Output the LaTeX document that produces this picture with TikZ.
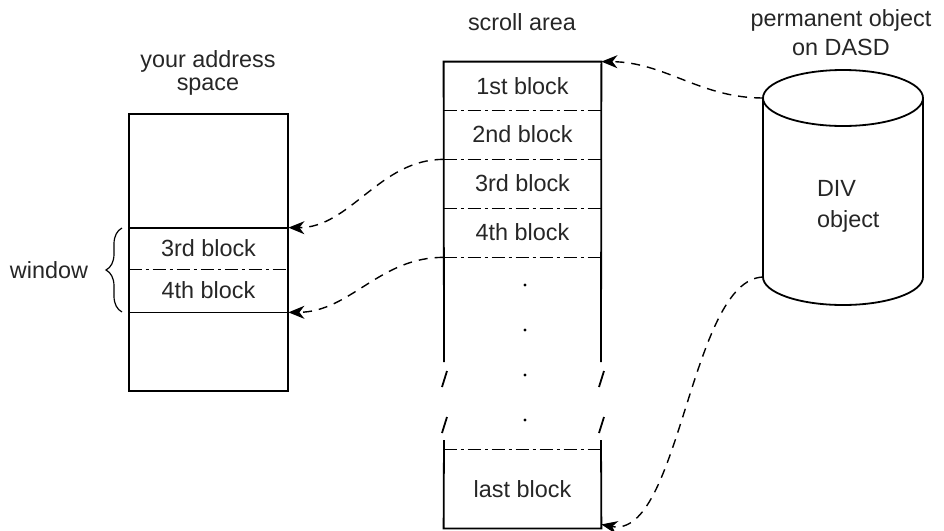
\documentclass[tikz,border=0pt]{standalone}
\usepackage{fontspec}
\setmainfont{Liberation Sans}
\usetikzlibrary{arrows.meta, decorations.pathreplacing}

\begin{document}
\begin{tikzpicture}[ x = 0.5pt
                   , y = -0.5pt
                   , font = \fontsize{11.7}{11.5}\selectfont
                   , >={Stealth[length=8pt, width=6.5pt, inset=2.5pt]}
                   , box/.style = {line width = 0.9pt}
                   , dashdot/.style = { line width = 0.7pt
                                      , dash pattern = on 6.5pt off 2pt on 1.5pt off 2pt }
                   , link/.style = { ->
                                   , line width = 0.7pt
                                   , dash pattern = on 4.5pt off 3.5pt }
                   , blk/.style = { inner sep = 0pt
                                  , minimum width = 78.5pt
                                  , minimum height = 24.5pt }
                   , win/.style = { inner sep = 0pt
                                  , minimum width = 79.5pt }
                   , every node/.style = {align = center, text = black!85}
                   ]

  \useasboundingbox (0,0) rectangle (944,531);

  % your address space
  \node (spacetitle) at (208,73) {your address\\space};
  \node (win3) [win, minimum height = 20.5pt] at (208.5,248.5) {3rd block};
  \node (win4) [win, minimum height = 21.5pt] at (208.5,290.5) {4th block};
  \draw[box] (129,114) rectangle (288,391);
  \draw[box] (win3.north west) -- (win3.north east);
  \draw[dashdot] (win3.south west) -- (win3.south east);
  \draw[box] (win4.south west) -- (win4.south east);

  \draw[line width = 0.6pt, decorate, decoration = {brace, amplitude = 8pt}]
    (122,312) -- (122,228);
  \node (window) at (49,270) {window};

  % scroll area
  \node (scrolltitle) at (522,22) {scroll area};
  \node (blk1) [blk, minimum height = 24pt] at (522.5,86) {1st block};
  \node (blk2) [blk] at (522.5,134.5) {2nd block};
  \node (blk3) [blk] at (522.5,183.5) {3rd block};
  \node (blk4) [blk] at (522.5,232.5) {4th block};
  \node (blklast) [blk, minimum height = 39pt] at (522.5,489) {last block};

  \draw[box] (444,362) -- (blk1.north west) -- (blk1.north east) -- (601,362);
  \draw[box] (444,440) -- (blklast.south west) -- (blklast.south east) -- (601,440);
  \foreach \b in {blk1, blk2, blk3, blk4}
    \draw[dashdot] (\b.south west) -- (\b.south east);
  \draw[dashdot] (blklast.north west) -- (blklast.north east);

  \foreach \x in {442, 599}
  {
    \draw[box] (\x,387) -- (\x+5,371);
    \draw[box] (\x,433) -- (\x+5,417);
  }
  \foreach \y in {285, 330, 375, 420}
    \fill (525,\y) circle [radius = 0.8pt];

  % DIV object
  \node (dasdtitle) at (841,33) {permanent object\\[3pt]on DASD};
  \draw[box] (843,98) ellipse [x radius = 80, y radius = 28];
  \draw[box] (763,98) -- (763,277) arc [start angle = 180, end angle = 0,
    x radius = 80, y radius = 28] -- (923,98);
  \coordinate (divtop) at (763,98);
  \coordinate (divbot) at (763,277);
  \node (divtext) [align = left, anchor = west] at (810,206) {DIV\\[4pt]object};

  \draw[link] (divtop) .. controls (700,98) and (665,62) .. (blk1.north east);
  \draw[link] (blk2.south west) .. controls (380,159) and (350,228) .. (win3.north east);
  \draw[link] (blk4.south west) .. controls (380,257) and (350,312) .. (win4.south east);
  \draw[link] (divbot) .. controls (690,280) and (680,540) .. ([yshift = 2pt]blklast.south east);

\end{tikzpicture}
\end{document}
